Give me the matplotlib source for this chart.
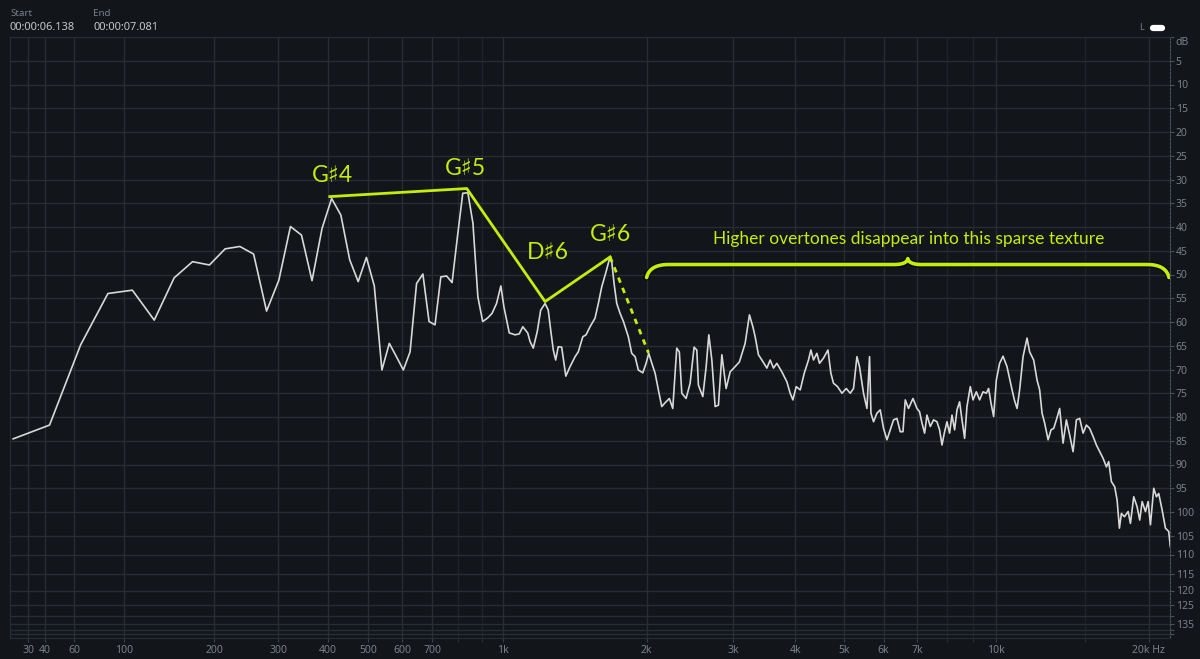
import numpy as np
import matplotlib
matplotlib.use("Agg")
import matplotlib.pyplot as plt
import matplotlib.patheffects as pe
from matplotlib.lines import Line2D

# ---- spectrum data (Hz, dB below full scale) ----
LOW_FREQ = [21.5, 43.1, 64.6, 86.1, 107.7, 129.2, 150.7, 172.3, 193.8, 215.3,
            236.9, 258.4, 279.9, 301.5, 323.0, 344.5, 366.1, 387.6, 409.1, 430.7,
            452.2, 473.7, 495.3, 516.8, 538.3, 559.9, 581.4, 602.9, 624.5, 646.0,
            667.5, 689.1, 710.6, 732.1, 753.7, 775.2, 796.7, 818.3, 839.8, 861.3,
            882.9, 904.4, 925.9, 947.5, 969.0]
LOW_DB = [84.6, 81.7, 64.8, 54.0, 53.3, 59.6, 50.7, 47.3, 48.0, 44.6,
          44.1, 45.7, 57.7, 51.2, 39.9, 41.7, 51.3, 40.3, 34.0, 37.5,
          46.9, 51.5, 46.4, 52.4, 70.1, 64.5, 67.3, 70.1, 66.3, 51.9,
          49.9, 59.9, 60.6, 50.5, 50.3, 51.7, 42.0, 32.9, 32.8, 39.2,
          54.7, 59.9, 59.2, 58.2, 56.1]

MID_FREQ = [990, 1005, 1032, 1062, 1084, 1103, 1130, 1143, 1161, 1184,
            1204, 1230, 1249, 1264, 1280, 1295, 1311, 1333, 1360, 1388,
            1422, 1444, 1476, 1499, 1528, 1565, 1590, 1616, 1650, 1676,
            1695, 1714, 1736, 1764, 1792, 1834, 1864, 1894, 1923, 1964,
            1995, 2020, 2050, 2082, 2114, 2148, 2182, 2226, 2262, 2305,
            2333, 2360, 2408, 2454, 2500, 2532, 2551, 2604, 2645, 2678,
            2716, 2758, 2801, 2846, 2903, 2958, 3027, 3088, 3171, 3235,
            3287, 3322, 3373, 3427, 3507, 3561, 3616, 3673, 3759, 3847,
            3906, 3955, 4016, 4091, 4167, 4250, 4297, 4349, 4417, 4471,
            4554, 4648, 4711, 4768, 4857, 4956, 5055, 5148, 5227, 5309,
            5372, 5472, 5558, 5625, 5661, 5729, 5818, 5907, 5997, 6091,
            6184, 6278, 6376, 6473]
MID_DB = [52.4, 56.8, 62.3, 62.7, 62.5, 61.0, 62.3, 64.1, 65.5, 62.0,
          57.5, 56.1, 57.5, 61.7, 65.9, 68.0, 65.2, 65.3, 71.4, 69.4,
          67.3, 66.3, 63.1, 62.7, 61.0, 59.2, 56.1, 52.6, 49.4, 46.8,
          47.3, 51.9, 56.1, 58.2, 59.9, 63.1, 66.6, 67.3, 70.1, 70.7,
          68.7, 66.6, 68.7, 70.8, 74.3, 77.8, 77.0, 76.1, 78.2, 65.5,
          66.3, 75.0, 76.1, 72.9, 65.3, 65.9, 73.3, 75.7, 69.4, 62.7,
          68.0, 77.8, 77.5, 66.9, 74.0, 70.5, 69.4, 68.4, 64.5, 58.5,
          61.0, 63.1, 66.9, 68.0, 69.7, 68.0, 69.7, 68.7, 70.5, 72.6,
          75.0, 76.4, 73.6, 74.3, 70.8, 68.0, 65.9, 68.0, 66.6, 68.7,
          67.6, 65.9, 70.8, 72.9, 73.6, 75.0, 74.0, 75.0, 74.0, 67.3,
          69.4, 75.0, 78.2, 67.3, 79.2, 81.0, 79.2, 78.5, 82.4, 84.8,
          82.7, 80.6, 80.3, 83.1]

HIGH_FREQ = [6554, 6623, 6722, 6860, 6986, 7070, 7148, 7234, 7312, 7424,
             7537, 7653, 7745, 7831, 7913, 8011, 8106, 8196, 8294, 8384,
             8484, 8578, 8680, 8774, 8908, 9018, 9155, 9293, 9438, 9581,
             9681, 9788, 9905, 10027, 10178, 10337, 10525, 10734, 10882, 11016,
             11146, 11320, 11527, 11664, 11879, 12062, 12206, 12340, 12487, 12682,
             12854, 13008, 13168, 13365, 13573, 13778, 13985, 14203, 14418, 14634,
             14861, 15086, 15312, 15550, 15785, 16022, 16271, 16517, 16688, 16895,
             17150, 17336, 17517, 17677, 17920, 18224, 18412, 18690, 18977, 19203,
             19414, 19706, 19950, 20156, 20460, 20711, 20926, 21252, 21572, 21894,
             22050]
HIGH_DB = [83.1, 76.4, 78.2, 76.1, 78.2, 78.9, 81.3, 83.4, 79.6, 82.0,
           80.6, 81.0, 82.7, 85.9, 83.4, 81.0, 83.4, 79.6, 82.7, 78.5,
           76.8, 80.6, 84.5, 77.8, 73.6, 76.4, 74.7, 76.4, 74.7, 75.0,
           74.0, 77.1, 79.9, 72.2, 68.7, 67.2, 69.4, 73.6, 76.4, 78.2,
           74.3, 67.3, 63.4, 66.3, 68.0, 72.2, 74.3, 79.2, 81.3, 84.8,
           82.7, 82.4, 80.6, 78.2, 85.5, 80.6, 83.8, 87.3, 80.6, 80.3,
           83.4, 81.7, 82.4, 84.1, 85.9, 87.3, 88.7, 90.5, 89.4, 93.6,
           94.7, 97.5, 103.4, 100.3, 101.0, 99.9, 102.4, 96.8, 98.9, 101.7,
           97.8, 99.9, 97.8, 102.7, 95.0, 96.8, 96.1, 99.6, 103.4, 104.1,
           107.9]

# harmonic peaks joined by the annotation line
NOTE_NAMES = ["G♯4", "G♯5", "D♯6", "G♯6"]
NOTE_FREQ = [405, 835, 1230, 1682]
NOTE_DB = [33.6, 31.9, 55.7, 46.3]
FADE_FREQ = [1682, 2018]
FADE_DB = [46.3, 66.5]
# label anchors (Hz, dB)
LABEL_FREQ = [412, 828, 1248, 1682]
LABEL_DB = [29.1, 27.6, 45.4, 41.6]

BRACE_SPAN = [2000, 21920]
BRACE_DB = 47.9
BRACE_TEXT = "Higher overtones disappear into this sparse texture"
BRACE_TEXT_POS = (6715, 42.6)

X_TICKS = [30, 40, 60, 100, 200, 300, 400, 500, 600, 700, 1000,
           2000, 3000, 4000, 5000, 6000, 7000, 10000, 20000]
X_LABELS = ["30", "40", "60", "100", "200", "300", "400", "500", "600", "700", "1k",
            "2k", "3k", "4k", "5k", "6k", "7k", "10k", "20k Hz"]
X_MINOR = [800, 900, 8000, 9000, 15000]

Y_TICKS = list(range(0, 150, 5))
Y_LABELS = ["dB"] + [str(v) for v in range(5, 130, 5)] + ["", "135", "", ""]

# the analyser compresses the scale below -105 dB
DB_KNOTS = [0, 105, 110, 115, 120, 125, 130, 135, 140, 145, 150]
POS_KNOTS = [0, 498.75, 517.5, 536.5, 553.5, 568, 579, 587, 592.5, 597, 600.5]

BG = "#121519"
GRID = "#282d35"
TXT = "#7b8088"
LIME = "#c4ee0a"


def db_fwd(v):
    return np.interp(v, DB_KNOTS, POS_KNOTS)


def db_inv(p):
    return np.interp(p, POS_KNOTS, DB_KNOTS)


def hz_fwd(f):
    return np.log10(np.maximum(np.asarray(f, dtype=float) + 100, 1e-9))


def hz_inv(v):
    return 10 ** np.asarray(v, dtype=float) - 100


def bezier(p0, c, p1, n=20):
    t = np.linspace(0, 1, n)[:, None]
    return (1 - t) ** 2 * np.array(p0) + 2 * (1 - t) * t * np.array(c) + t ** 2 * np.array(p1)


def draw_brace(ax, f0, f1, level):
    # build the brace in pixels so its hooks look the same on any scale
    to_px = ax.transData
    (x0, yf), (x1, _) = to_px.transform([(f0, level), (f1, level)])
    xm = (x0 + x1) / 2
    drop, tip, hook, bend = 13, 6, 22, 14
    pts = np.vstack([
        bezier((x0, yf - drop), (x0 + 3, yf), (x0 + hook, yf)),
        bezier((xm - bend, yf), (xm - 1, yf), (xm, yf + tip)),
        bezier((xm, yf + tip), (xm + 1, yf), (xm + bend, yf)),
        bezier((x1 - hook, yf), (x1 - 3, yf), (x1, yf - drop)),
    ])
    data = to_px.inverted().transform(pts)
    ax.plot(data[:, 0], data[:, 1], color=LIME, lw=2.6, solid_capstyle="round",
            path_effects=[pe.Stroke(linewidth=4.5, foreground="#05070a", alpha=0.8), pe.Normal()])


plt.rcParams["font.family"] = ["Noto Sans", "DejaVu Sans"]

fig = plt.figure(figsize=(12, 6.59), dpi=100, facecolor=BG)
ax = fig.add_axes([10.4 / 1200, 1 - 637.5 / 659, 1159.9 / 1200, 600.5 / 659])
ax.set_facecolor(BG)

ax.set_xscale("function", functions=(hz_fwd, hz_inv))
ax.set_yscale("function", functions=(db_fwd, db_inv))
ax.set_xlim(20, 22050)
ax.set_ylim(150, 0)

# spectrum
freq = LOW_FREQ + MID_FREQ + HIGH_FREQ
level = LOW_DB + MID_DB + HIGH_DB
ax.plot(freq, level, color="#d8d8d8", lw=1.2, zorder=3)

# axes styling
ax.set_xticks(X_TICKS)
ax.set_xticklabels(X_LABELS)
ax.set_xticks(X_MINOR, minor=True)
ax.set_yticks(Y_TICKS)
ax.set_yticklabels(Y_LABELS)
ax.set_yticks([], minor=True)
ax.yaxis.tick_right()
ax.tick_params(axis="x", which="major", colors=TXT, labelsize=7.5, length=3,
               width=0.8, pad=2.5, color="#3a404a")
ax.tick_params(axis="x", which="minor", length=3, width=0.8, color="#2a2f37")
ax.tick_params(axis="y", colors=TXT, labelsize=7.5, length=3, width=0.8, pad=1,
               color="#4a505a", direction="out")
ax.get_yticklabels()[0].set_va("top")
ax.grid(True, which="major", color=GRID, lw=1.0, zorder=0)
ax.grid(True, which="minor", axis="x", color="#1e2229", lw=1.0, zorder=0)
for side in ["top", "bottom", "left"]:
    ax.spines[side].set_color(GRID)
ax.spines["right"].set_color("#4a505a")
ax.spines["right"].set_linestyle((0, (2, 1.5)))

# annotations
ax.plot(NOTE_FREQ, NOTE_DB, color=LIME, lw=2.0, zorder=4)
ax.plot(FADE_FREQ, FADE_DB, color=LIME, lw=2.0, ls=(0, (2, 2)), zorder=4)
for name, f, d in zip(NOTE_NAMES, LABEL_FREQ, LABEL_DB):
    ax.text(f, d, name, color=LIME, fontsize=16.5, ha="center", va="center",
            family=["Lato", "DejaVu Sans"], zorder=5)
draw_brace(ax, BRACE_SPAN[0], BRACE_SPAN[1], BRACE_DB)
ax.text(BRACE_TEXT_POS[0], BRACE_TEXT_POS[1], BRACE_TEXT, color=LIME, fontsize=12.5,
        ha="center", va="center", family=["Lato", "DejaVu Sans"], zorder=5)

# header
fig.text(10 / 1200, 1 - 14 / 659, "Start", color=TXT, fontsize=7, va="center")
fig.text(10 / 1200, 1 - 27 / 659, "00:00:06.138", color="#c4c8cd", fontsize=8, va="center")
fig.text(93 / 1200, 1 - 14 / 659, "End", color=TXT, fontsize=7, va="center")
fig.text(93 / 1200, 1 - 27 / 659, "00:00:07.081", color="#c4c8cd", fontsize=8, va="center")
fig.text(1142 / 1200, 1 - 28 / 659, "L", color=TXT, fontsize=6.5, ha="center", va="center")
fig.add_artist(Line2D([1153 / 1200, 1162 / 1200], [1 - 28 / 659] * 2, color="white",
                      lw=4.5, solid_capstyle="round"))

fig.savefig("out.png", dpi=100, facecolor=BG)
